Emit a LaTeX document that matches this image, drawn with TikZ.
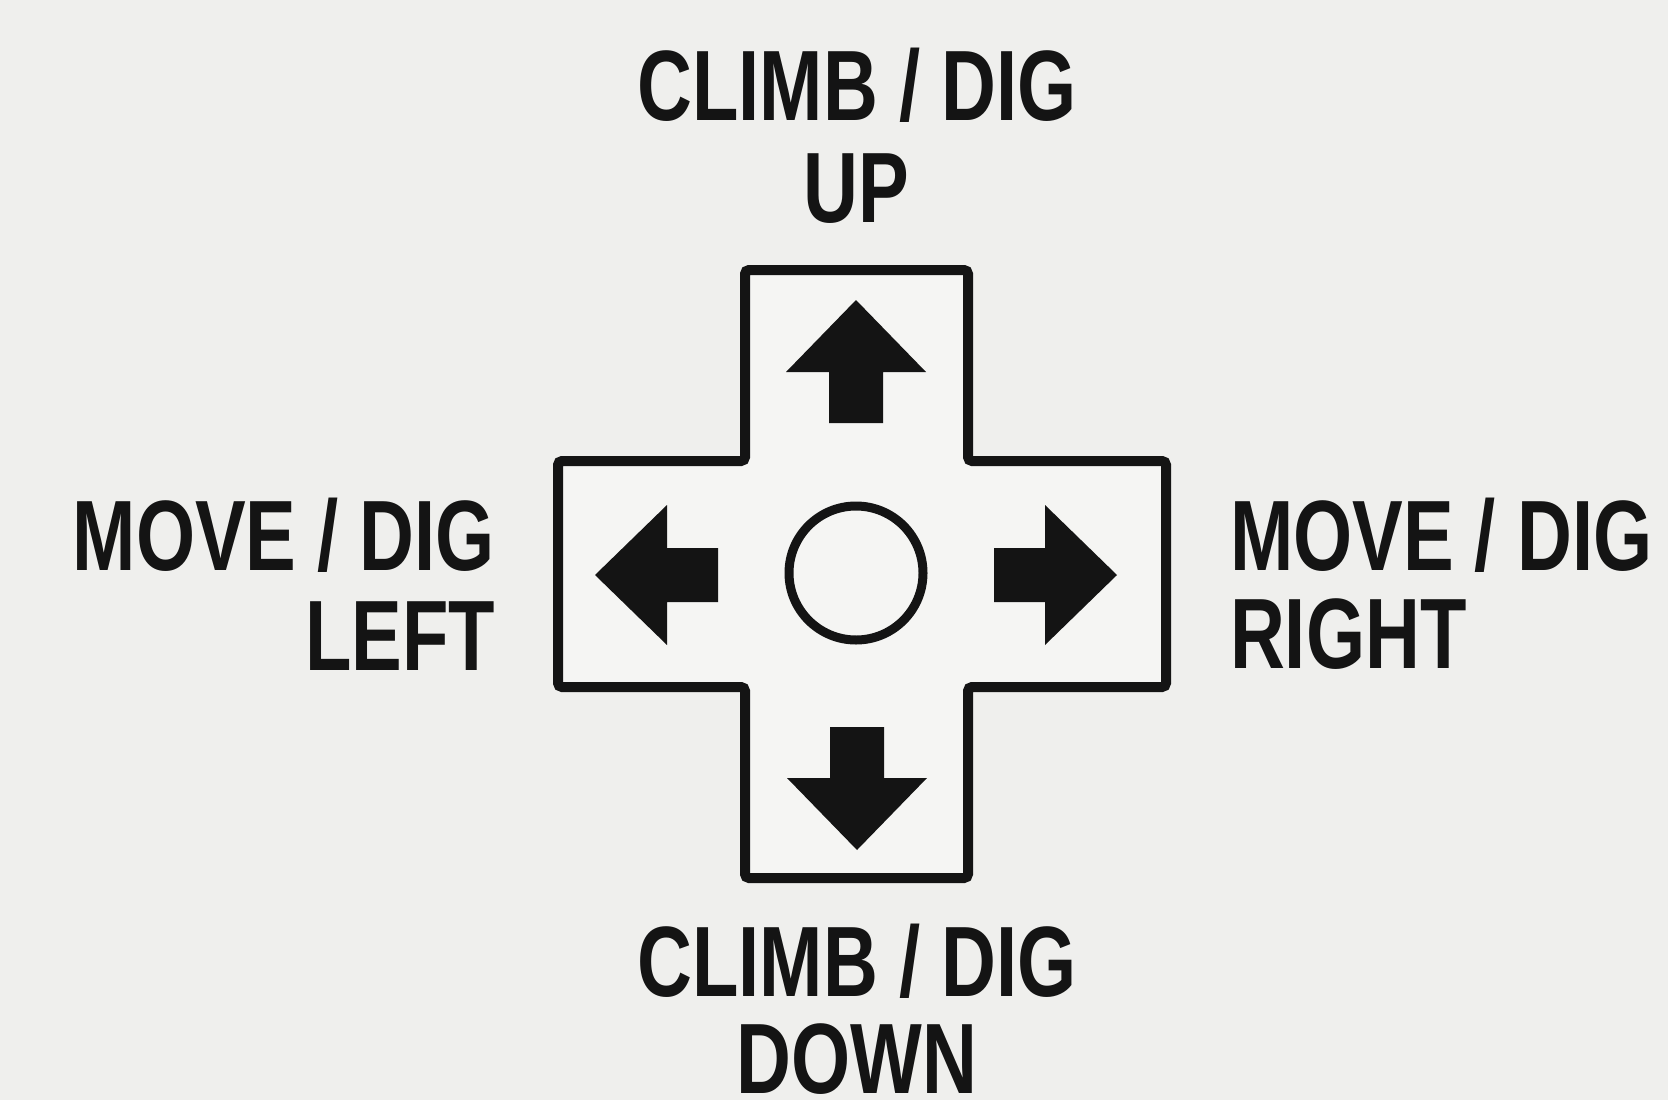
\documentclass[tikz,border=0pt]{standalone}
\usepackage{fontspec}
\setmainfont{Liberation Sans}
\newcommand{\cnd}[1]{\scalebox{0.76}[1]{#1}}
\definecolor{bgc}{HTML}{EFEFED}
\definecolor{padc}{HTML}{F5F5F3}
\definecolor{inkc}{HTML}{141414}
\tikzset{
  lbl/.style={inner sep=0pt, outer sep=0pt, text=inkc, font=\fontsize{100}{100}\selectfont\bfseries},
  padline/.style={draw=inkc, line width=10pt, fill=padc, rounded corners=4pt, line join=miter},
  padarrow/.pic={\fill[inkc] (0,0) -- (70,72) -- (27,72) -- (27,123) -- (-27,123) -- (-27,72) -- (-70,72) -- cycle;}
}
\begin{document}
\begin{tikzpicture}[x=1pt,y=-1pt]
\useasboundingbox (0,0) rectangle (1668,1100);
\fill[bgc] (0,0) rectangle (1668,1100);
% D-pad cross
\draw[padline] (745,270) -- (968,270) -- (968,461) -- (1166,461) -- (1166,687) -- (968,687)
  -- (968,878) -- (745,878) -- (745,687) -- (558,687) -- (558,461) -- (745,461) -- cycle;
% centre button
\node[circle, draw=inkc, line width=9pt, minimum size=134pt, inner sep=0pt, fill=padc] (btn) at (856,573) {};
% arrows
\pic at (856,300) {padarrow};
\pic[rotate=180] at (857,850) {padarrow};
\pic[rotate=90] at (595,575) {padarrow};
\pic[rotate=-90] at (1117,575) {padarrow};
% labels
\node[lbl, anchor=base] (up1) at (857,120) {\cnd{CLIMB / DIG}};
\node[lbl, anchor=base] (up2) at (856,222) {\cnd{UP}};
\node[lbl, anchor=base east] (lf1) at (495,570) {\cnd{MOVE / DIG}};
\node[lbl, anchor=base east] (lf2) at (495,670) {\cnd{LEFT}};
\node[lbl, anchor=base west] (rt1) at (1230,570) {\cnd{MOVE / DIG}};
\node[lbl, anchor=base west] (rt2) at (1230,668) {\cnd{RIGHT}};
\node[lbl, anchor=base] (dn1) at (857,996) {\cnd{CLIMB / DIG}};
\node[lbl, anchor=base] (dn2) at (857,1093) {\cnd{DOWN}};
\end{tikzpicture}
\end{document}
